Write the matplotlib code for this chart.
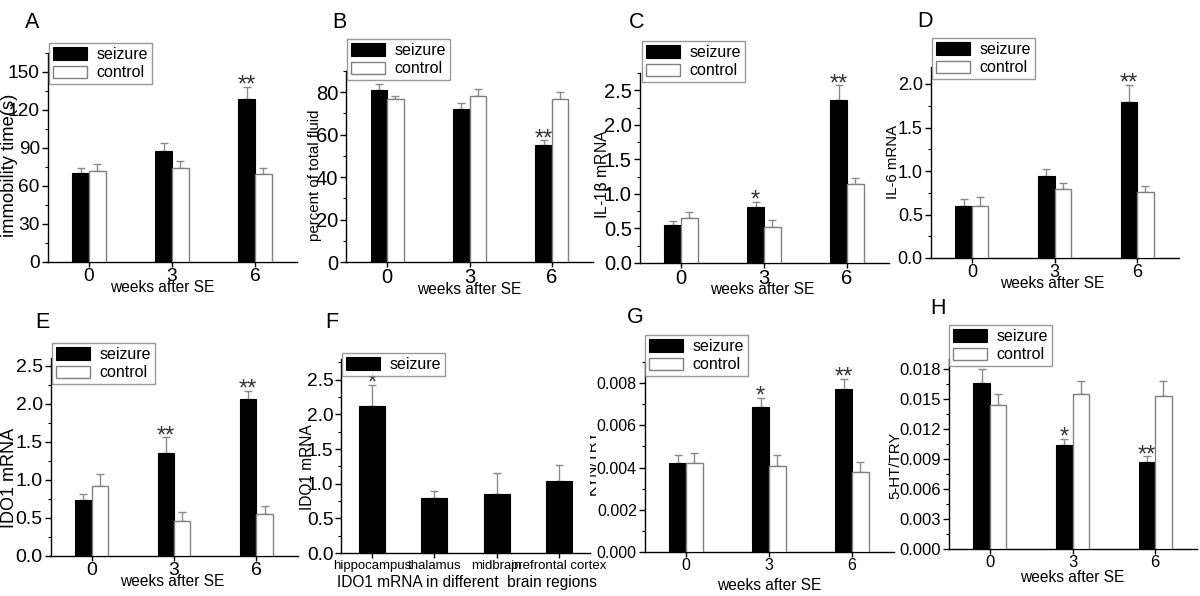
import matplotlib
matplotlib.use("Agg")
import matplotlib.pyplot as plt
from matplotlib.ticker import MultipleLocator, FormatStrFormatter
import numpy as np

plt.rcParams['font.family'] = ['Liberation Sans', 'DejaVu Sans']

# ---------------- data ----------------
weeks = ['0', '3', '6']

A_seizure = [70.0, 87.6, 128.5]
A_seizure_err = [4.0, 6.3, 10.0]
A_control = [71.6, 74.0, 69.5]
A_control_err = [5.4, 5.5, 4.5]
A_sig = ['', '', '**']

B_seizure = [81.1, 72.0, 54.9]
B_seizure_err = [2.7, 2.7, 2.5]
B_control = [76.9, 78.0, 77.0]
B_control_err = [1.2, 3.4, 3.0]
B_sig = ['', '', '**']

C_seizure = [0.548, 0.81, 2.365]
C_seizure_err = [0.062, 0.08, 0.205]
C_control = [0.65, 0.52, 1.144]
C_control_err = [0.085, 0.10, 0.082]
C_sig = ['', '*', '**']

D_seizure = [0.598, 0.946, 1.793]
D_seizure_err = [0.08, 0.077, 0.196]
D_control = [0.60, 0.793, 0.759]
D_control_err = [0.10, 0.073, 0.069]
D_sig = ['', '', '**']

E_seizure = [0.73, 1.35, 2.063]
E_seizure_err = [0.083, 0.21, 0.105]
E_control = [0.918, 0.459, 0.546]
E_control_err = [0.157, 0.118, 0.11]
E_sig = ['', '**', '**']

F_regions = ['hippocampus', 'thalamus', 'midbrain', 'prefrontal cortex']
F_seizure = [2.115, 0.80, 0.856, 1.038]
F_seizure_err = [0.315, 0.09, 0.294, 0.232]
F_sig = ['*', '', '', '']

G_seizure = [0.0042, 0.00685, 0.0077]
G_seizure_err = [0.0004, 0.00045, 0.0005]
G_control = [0.0042, 0.00406, 0.0038]
G_control_err = [0.0005, 0.00055, 0.00045]
G_sig = ['', '*', '**']

H_seizure = [0.01657, 0.01038, 0.00868]
H_seizure_err = [0.0014, 0.00067, 0.0006]
H_control = [0.01441, 0.0155, 0.01534]
H_control_err = [0.0011, 0.00127, 0.00143]
H_sig = ['', '*', '**']

# ---------------- layout helpers ----------------
W, H = 1200, 596
fig = plt.figure(figsize=(W / 100, H / 100), dpi=100)

GRAY = '#808080'
ERRC = '#8a8a8a'


def make_ax(left, right, top, bottom):
    return fig.add_axes([left / W, 1 - bottom / H, (right - left) / W, (bottom - top) / H])


def style_ax(ax, ymax, major, minor, fmt, tsize):
    for s in ['top', 'right']:
        ax.spines[s].set_visible(False)
    for s in ['left', 'bottom']:
        ax.spines[s].set_linewidth(1.0)
        ax.spines[s].set_color('black')
    ax.set_ylim(0, ymax)
    ax.yaxis.set_major_locator(MultipleLocator(major))
    ax.yaxis.set_minor_locator(MultipleLocator(minor))
    ax.yaxis.set_major_formatter(FormatStrFormatter(fmt))
    ax.tick_params(axis='y', which='major', direction='out', length=4.5, width=1, pad=1.0, labelsize=tsize)
    ax.tick_params(axis='y', which='minor', direction='out', length=2.5, width=0.8)
    ax.tick_params(axis='x', which='major', direction='out', length=3.5, width=1, pad=0.5, labelsize=tsize)


def place_labels(ax, box, xlab, xpos, ylab, ypos, xsize=11.2, ysize=13.5):
    left, right, top, bottom = box
    ax.set_xlabel(xlab, fontsize=xsize, va='center')
    ax.xaxis.set_label_coords((xpos[0] - left) / (right - left), (bottom - xpos[1]) / (bottom - top))
    ax.set_ylabel(ylab, fontsize=ysize, va='center')
    ax.yaxis.set_label_coords((ypos[0] - left) / (right - left), (bottom - ypos[1]) / (bottom - top))


def legend_at(ax, handles, labels, px, py):
    leg = ax.legend(handles, labels, loc='upper left', bbox_to_anchor=(px / W, 1 - py / H),
                    bbox_transform=fig.transFigure, fontsize=11.5, frameon=True, fancybox=False,
                    shadow=False, borderpad=0.25, labelspacing=0.2, handlelength=2.1,
                    handleheight=0.8, handletextpad=0.6, borderaxespad=0)
    leg.get_frame().set_edgecolor(GRAY)
    leg.get_frame().set_linewidth(1.0)
    return leg


def sig_marks(ax, xs, tops, sig):
    for x, t, s in zip(xs, tops, sig):
        if s:
            ax.annotate(s, xy=(x, t), xytext=(0, -3.5),
                        textcoords='offset points', ha='center', va='baseline',
                        fontsize=17, color='#333333')


def grouped_panel(box, ymax, major, minor, fmt, tsize, s, se, c, ce, sig, ylab, ysize, ypos, xpos,
                  legpos, letter, letpos):
    left, right, top, bottom = box
    ax = make_ax(left, right, top, bottom)
    x = np.arange(len(weeks))
    w = 0.2
    ekw = dict(ecolor=ERRC, elinewidth=1.0, capsize=3, capthick=1.0)
    b1 = ax.bar(x - w / 2, s, w, color='black', edgecolor='black', linewidth=0.8, zorder=3)
    ax.errorbar(x - w / 2, s, yerr=[np.zeros(len(s)), se], fmt='none', zorder=2, **ekw)
    b2 = ax.bar(x + w / 2, c, w, color='white', edgecolor=GRAY, linewidth=1.0, zorder=3)
    ax.errorbar(x + w / 2, c, yerr=[np.zeros(len(c)), ce], fmt='none', zorder=2, **ekw)
    ax.set_xlim(-0.5, len(weeks) - 0.5)
    ax.set_xticks(x)
    ax.set_xticklabels(weeks)
    style_ax(ax, ymax, major, minor, fmt, tsize)
    place_labels(ax, box, 'weeks after SE', xpos, ylab, ypos, ysize=ysize)
    legend_at(ax, [b1, b2], ['seizure', 'control'], *legpos)
    sig_marks(ax, x - w / 2, np.array(s) + np.array(se), sig)
    fig.text(letpos[0] / W, 1 - letpos[1] / H, letter, fontsize=15.5, ha='left', va='baseline')
    return ax


grouped_panel((47.5, 296.5, 53, 262), 165, 30, 15, '%d', 13.8, A_seizure, A_seizure_err, A_control,
              A_control_err, A_sig, 'immobility time(s)', 13.2, (10, 165), (162, 287), (49, 43), 'A', (25, 28))
grouped_panel((346, 593, 71, 262), 90, 20, 10, '%d', 14.5, B_seizure, B_seizure_err, B_control,
              B_control_err, B_sig, 'percent of total fluid', 10.8, (315, 175), (469, 290), (347, 39), 'B',
              (332, 28))
grouped_panel((639.5, 888.5, 73, 263), 2.75, 0.5, 0.25, '%.1f', 14.5, C_seizure, C_seizure_err, C_control,
              C_control_err, C_sig, r'IL-1$\mathrm{\beta}$ mRNA', 11.3, (602, 174), (762, 289), (642, 41), 'C',
              (629, 28))
grouped_panel((930.5, 1178.5, 66.6, 258), 2.2, 0.5, 0.25, '%.1f', 13, D_seizure, D_seizure_err, D_control,
              D_control_err, D_sig, 'IL-6 mRNA', 10.8, (893, 162), (1052, 283), (932, 38), 'D', (917, 27))
grouped_panel((50.5, 297.5, 358, 556), 2.6, 0.5, 0.25, '%.1f', 14, E_seizure, E_seizure_err, E_control,
              E_control_err, E_sig, 'IDO1 mRNA', 13, (10, 478), (172, 582), (52, 343), 'E', (35, 328))
grouped_panel((644.5, 893.5, 362, 552), 0.009, 0.002, 0.001, '%.3f', 11.5, G_seizure, G_seizure_err, G_control,
              G_control_err, G_sig, 'KYN/TRY', 11, (592, 462), (769, 585), (645, 335), 'G', (627, 323))
grouped_panel((948.5, 1196.5, 359, 549), 0.019, 0.003, 0.0015, '%.3f', 12, H_seizure, H_seizure_err, H_control,
              H_control_err, H_sig, '5-HT/TRY', 10.8, (895, 465), (1072, 577), (949, 325), 'H', (930, 314))

# ---------------- panel F ----------------
boxF = (341, 590, 359, 553)
axF = make_ax(*boxF)
xf = np.arange(len(F_regions))
wf = 0.42
bf = axF.bar(xf, F_seizure, wf, color='black', edgecolor='black', linewidth=0.8, zorder=3)
axF.errorbar(xf, F_seizure, yerr=[np.zeros(len(F_seizure)), F_seizure_err], fmt='none', zorder=2,
             ecolor=ERRC, elinewidth=1.0, capsize=3, capthick=1.0)
axF.set_xlim(-0.5, len(F_regions) - 0.5)
axF.set_xticks(xf)
axF.set_xticklabels(F_regions)
style_ax(axF, 2.8, 0.5, 0.25, '%.1f', 13.8)
axF.tick_params(axis='x', labelsize=9.5, pad=1.5)
place_labels(axF, boxF, 'IDO1 mRNA in different  brain regions', (467, 582), 'IDO1 mRNA', (308, 467),
             xsize=11.2, ysize=11.2)
legend_at(axF, [bf], ['seizure'], 342, 353)
sig_marks(axF, xf, np.array(F_seizure) + np.array(F_seizure_err), F_sig)
fig.text(325 / W, 1 - 328 / H, 'F', fontsize=15.5, ha='left', va='baseline')

fig.savefig('out.png', dpi=100)
